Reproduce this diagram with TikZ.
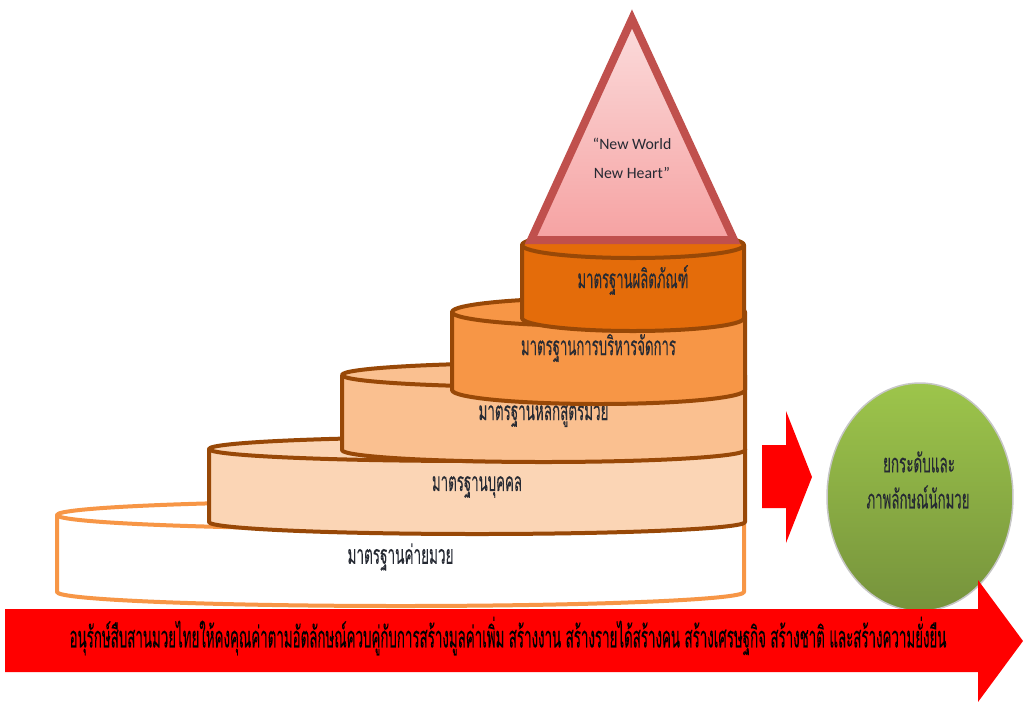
\documentclass[tikz,border=0pt]{standalone}
\usepackage{fontspec}
\usepackage{graphicx}
\setmainfont{Carlito}
\newfontfamily\thaifont[Script=Thai, FakeBold=0.2]{Loma}
\usetikzlibrary{shapes.geometric}

\definecolor{prodorange}{HTML}{E46C0A}
\definecolor{mgmtorange}{HTML}{F79646}
\definecolor{courseorange}{HTML}{FAC090}
\definecolor{personpeach}{HTML}{FBD5B5}
\definecolor{rimbrown}{HTML}{984807}
\definecolor{camprim}{HTML}{F79646}
\definecolor{peakred}{HTML}{C0504D}
\definecolor{peaktop}{HTML}{FBDCDC}
\definecolor{peakbot}{HTML}{F6A2A2}
\definecolor{egglight}{HTML}{9DC54B}
\definecolor{eggdark}{HTML}{76933C}
\definecolor{labelink}{HTML}{262A33}

\newcommand\thaiw[2]{\resizebox{#1}{\height}{#2}}

\begin{document}
\begin{tikzpicture}[x=0.02cm, y=-0.02cm,
    rim/.style={line width=0.08cm, line join=round},
    cyltext/.style={font=\thaifont\fontsize{15}{17}\selectfont, text=labelink, inner sep=0pt},
    goaltext/.style={cyltext},
    bandtext/.style={font=\thaifont\fontsize{17}{19}\selectfont, text=black, inner sep=0pt},
    goal/.style={ellipse, inner sep=0pt, minimum width=3.72cm, minimum height=4.56cm,
        top color=egglight, bottom color=eggdark, draw=gray!45, line width=0.03cm},
    blockarrow/.style={fill=red}]
    \useasboundingbox (0,0) rectangle (1025,701);

    % stacked standards, bottom one first
    \foreach \xl/\xr/\yt/\yb/\ry/\col/\rimcol/\nm/\w/\ty/\txt in {
        57/744/515/592/14/white/camprim/camp/2.12cm/557/มาตรฐานค่ายมวย,
        209/745/449/522/12/personpeach/rimbrown/person/1.80cm/487/มาตรฐานบุคคล,
        342/745/375/450/12/courseorange/rimbrown/course/2.60cm/413/มาตรฐานหลักสูตรมวย,
        452/745/312/390/14/mgmtorange/rimbrown/mgmt/3.10cm/348/มาตรฐานการบริหารจัดการ,
        522/744/245/318/13/prodorange/rimbrown/product/2.22cm/280/มาตรฐานผลิตภัณฑ์} {
        \pgfmathsetmacro\cx{(\xl+\xr)/2}
        \pgfmathsetmacro\rx{(\xr-\xl)/2}
        \fill[\col] (\xl,\yt) rectangle (\xr,\yb);
        \fill[\col] (\cx,\yb) ellipse[x radius=\rx, y radius=\ry];
        \draw[rim, \rimcol] (\xl,\yt) -- (\xl,\yb)
            arc[start angle=180, end angle=0, x radius=\rx, y radius=\ry] -- (\xr,\yt);
        \filldraw[rim, fill=\col, draw=\rimcol] (\cx,\yt) ellipse[x radius=\rx, y radius=\ry];
        \node[cyltext] (lbl-\nm) at (\cx,\ty) {\thaiw{\w}{\txt}};
    }

    % peak
    \filldraw[top color=peaktop, bottom color=peakbot, draw=peakred,
        line width=0.16cm, line join=miter] (632,19) -- (734,240) -- (531,240) -- cycle;
    \node[font=\fontsize{9}{16.5}\selectfont, text=labelink, align=center] (peak)
        at (632,158) {``New World\\New Heart''};

    % goal
    \node[goal] (goal) at (920,497) {};
    \node[goaltext] (goal-a) at (919,462) {\thaiw{1.44cm}{ยกระดับและ}};
    \node[goaltext] (goal-b) at (918,497) {\thaiw{2.06cm}{ภาพลักษณ์นักมวย}};

    \fill[blockarrow] (762,445) -- (786,445) -- (786,411) -- (812,477)
        -- (786,543) -- (786,508) -- (762,508) -- cycle;

    % base band
    \fill[blockarrow] (5,609) -- (978,609) -- (978,580) -- (1023,641)
        -- (978,702) -- (978,672) -- (5,672) -- cycle;
    \node[bandtext] (band) at (508,636)
        {\thaiw{17.54cm}{อนุรักษ์สืบสานมวยไทยให้คงคุณค่าตามอัตลักษณ์ควบคู่กับการสร้างมูลค่าเพิ่ม สร้างงาน สร้างรายได้สร้างคน สร้างเศรษฐกิจ สร้างชาติ และสร้างความยั่งยืน}};
\end{tikzpicture}
\end{document}
